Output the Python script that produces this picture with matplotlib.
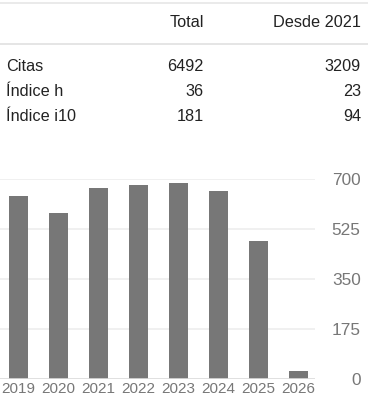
import matplotlib
matplotlib.use("Agg")
import matplotlib.pyplot as plt
from matplotlib.lines import Line2D

plt.rcParams['font.family'] = ['Liberation Sans', 'DejaVu Sans']

years = ["2019", "2020", "2021", "2022", "2023", "2024", "2025", "2026"]
citations = [643, 582, 669, 680, 687, 659, 484, 30]
yticks = [0, 175, 350, 525, 700]

col_headers = ["Total", "Desde 2021"]
row_labels = ["Citas", "Índice h", "Índice i10"]
total_vals = ["6492", "36", "181"]
since_vals = ["3209", "23", "94"]

W, H = 368, 397
fig = plt.figure(figsize=(W / 100, H / 100), dpi=100)

def fx(px):
    return px / W

def fy(py):
    return 1 - py / H

txt_color = "#222222"
line_color = "#e0e0e0"
fs_table = 11.7

# table lines
fig.add_artist(Line2D([0, 1], [fy(2.5), fy(2.5)], color="#e6e6e6", lw=1.2))
fig.add_artist(Line2D([0, 1], [fy(43.5), fy(43.5)], color=line_color, lw=1.2))

col_x = [204, 361]
for cx, h in zip(col_x, col_headers):
    fig.text(fx(cx), fy(22.5), h, ha="right", va="center", fontsize=fs_table, color=txt_color)

row_y = [66.5, 91.5, 116.5]
for ry, lab, t, s in zip(row_y, row_labels, total_vals, since_vals):
    fig.text(fx(6), fy(ry), lab, ha="left", va="center", fontsize=fs_table, color=txt_color)
    fig.text(fx(col_x[0]), fy(ry), t, ha="right", va="center", fontsize=fs_table, color=txt_color)
    fig.text(fx(col_x[1]), fy(ry), s, ha="right", va="center", fontsize=fs_table, color=txt_color)

# chart
left_px, right_px = 0, 314.7
top_px, bot_px = 179.3, 379.3
ax = fig.add_axes([fx(left_px), fy(bot_px), fx(right_px - left_px), (bot_px - top_px) / H])
x = list(range(len(years)))
ax.bar(x, citations, width=0.475, color="#777777", zorder=3)
ax.set_xlim(-0.4625, 7.405)
ax.set_ylim(0, 700)
for s in ax.spines.values():
    s.set_visible(False)
ax.set_yticks(yticks)
ax.yaxis.grid(True, color="#eeeeee", lw=1.2, zorder=0)
ax.axhline(0, color="#dddddd", lw=1.2, zorder=4)
ax.yaxis.tick_right()
ax.tick_params(axis="y", length=0, pad=33, labelsize=12.4, labelcolor="#777777")
for lab in ax.get_yticklabels():
    lab.set_horizontalalignment("right")
ax.set_xticks(x)
ax.set_xticklabels(years)
ax.tick_params(axis="x", length=0, pad=2, labelsize=11, labelcolor="#777777")

fig.savefig("out.png", dpi=100)
